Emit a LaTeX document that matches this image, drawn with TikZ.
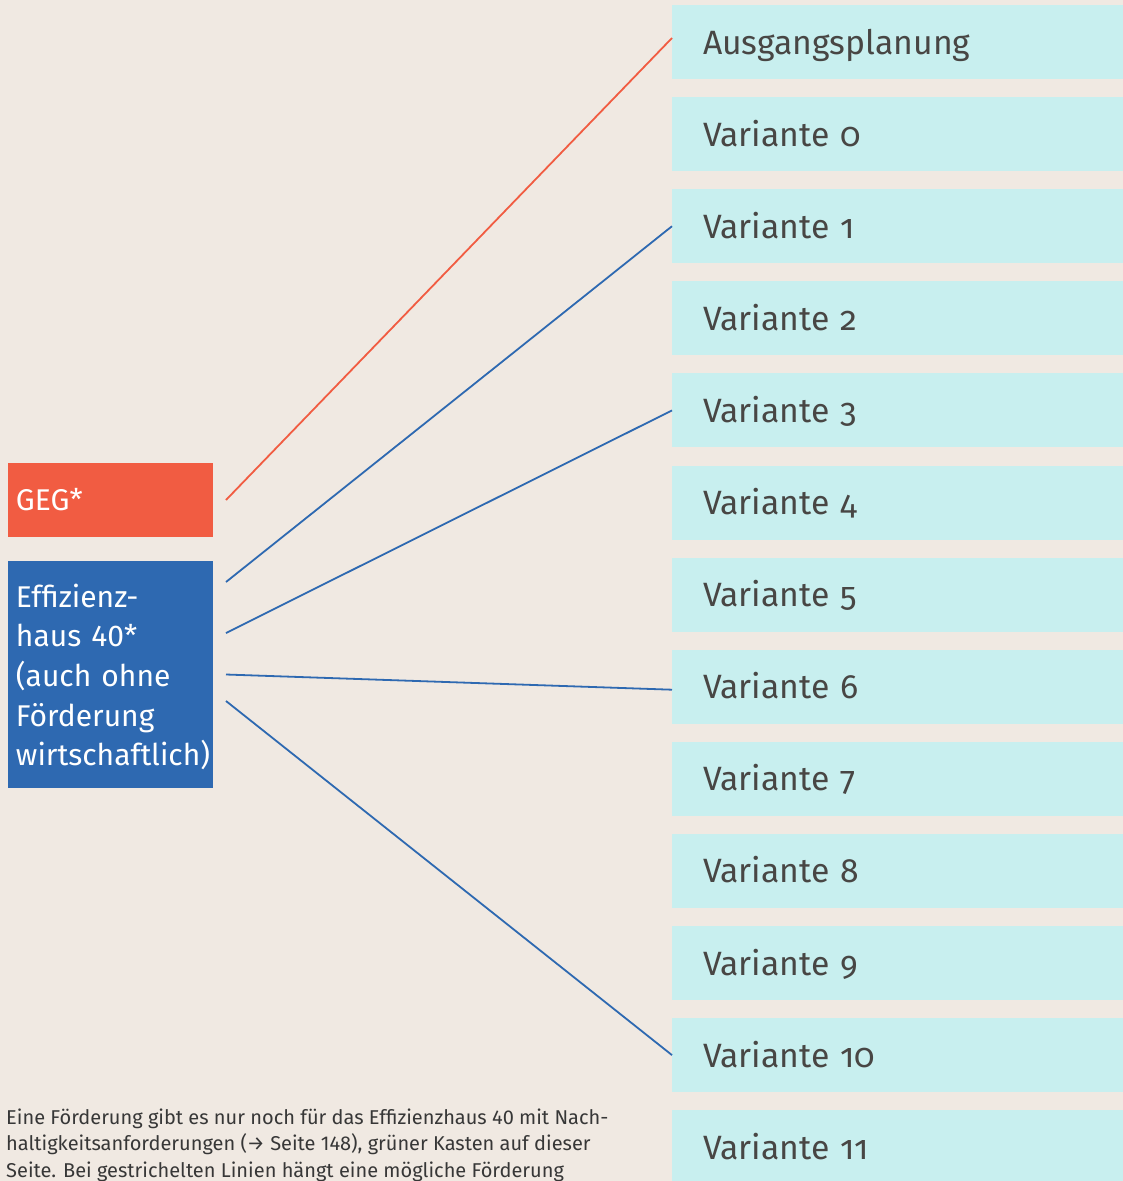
\documentclass[tikz,border=0pt]{standalone}
\usepackage{fontspec}
\setmainfont{Fira Sans}
\newfontfamily\oldnum[Numbers=OldStyle]{Fira Sans}
\usetikzlibrary{positioning}

\definecolor{paper}{RGB}{240,233,226}
\definecolor{varcyan}{RGB}{200,239,239}
\definecolor{gegred}{RGB}{241,92,66}
\definecolor{ehblue}{RGB}{46,105,177}
\definecolor{vartext}{RGB}{72,70,68}
\definecolor{notetext}{RGB}{55,55,55}

\tikzset{
	varbox/.style={fill=varcyan, anchor=west, outer sep=0pt, inner ysep=0pt, inner xsep=31pt,
		text width=389pt, align=left, minimum height=74pt, text height=24pt, text depth=0pt,
		text=vartext, font=\oldnum\fontsize{33.7}{40}\selectfont},
	stdbox/.style={outer sep=0pt, inner ysep=0pt, inner xsep=8pt, text width=189pt, align=left,
		text=white, font=\fontsize{30}{39.6}\selectfont},
	gegline/.style={gegred, line width=1.8pt},
	ehline/.style={ehblue, line width=1.8pt},
	note/.style={inner sep=0pt, align=left, text=notetext, font=\fontsize{20}{26.5}\selectfont}
}

\begin{document}
\begin{tikzpicture}[x=1pt, y=-1pt]
	\pgfmathsetmacro{\rowgap}{92.1} % distance between the variant rows
	
	% Background
	\useasboundingbox (0,0) rectangle (1123,1181);
	\fill[paper] (0,0) rectangle (1123,1181);
	
	% Variant boxes on the right
	\node[varbox] (plan) at (672, 42) {Ausgangsplanung};
	\foreach \n in {0,...,11} {
		\node[varbox] (var\n) at (672, {42+\rowgap*(\n+1)}) {Variante \n};
	}
	
	% Standards on the left
	\node[stdbox, fill=gegred, anchor=north west, minimum height=74pt, text height=21pt, text depth=0pt]
		(geg) at (8, 463) {GEG*};
	\node[stdbox, fill=ehblue, below=24pt of geg, minimum height=227pt, text height=24pt, text depth=158.4pt]
		(eh) {Effizienz-\\haus 40*\\(auch ohne\\Förderung\\wirtschaftlich)};
	
	% Connections
	\draw[gegline] ([xshift=13pt]geg.east) -- ([yshift=4pt]plan.west);
	\draw[ehline] ([xshift=13pt, yshift=-21pt]eh.north east) -- (var1.west);
	\draw[ehline] ([xshift=13pt, yshift=-72pt]eh.north east) -- (var3.west);
	\draw[ehline] ([xshift=13pt]eh.east) -- ([yshift=-3pt]var6.west);
	\draw[ehline] ([xshift=13pt, yshift=-140pt]eh.north east) -- (var10.west);
	
	% Footnote
	\node[note, anchor=base west] (fn) at (6, 1177)
		{Eine Förderung gibt es nur noch für das Effizienzhaus 40 mit Nach-\\
		haltigkeitsanforderungen (→ Seite 148), grüner Kasten auf dieser\\
		Seite. Bei gestrichelten Linien hängt eine mögliche Förderung};
	
\end{tikzpicture}
\end{document}
